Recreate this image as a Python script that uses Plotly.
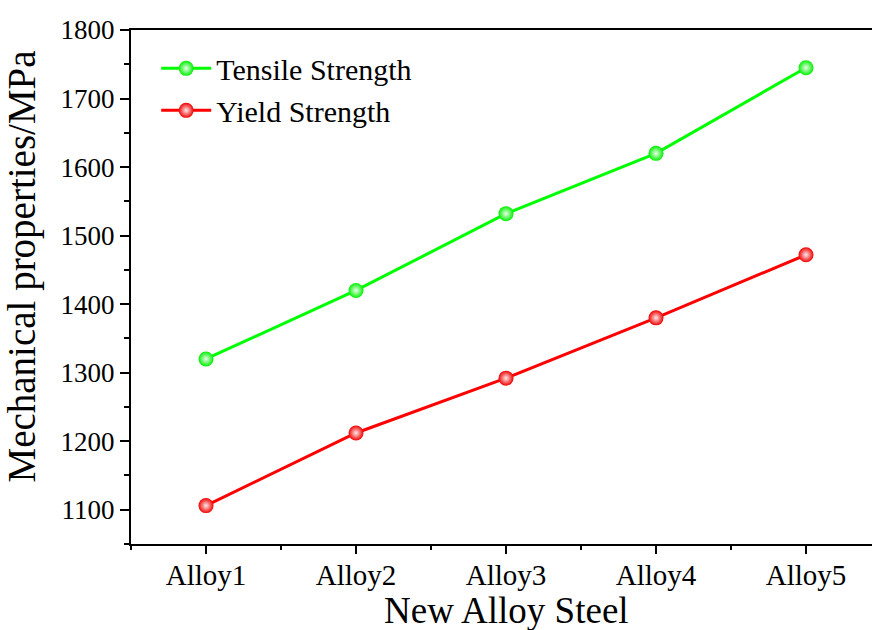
import plotly.graph_objects as go

categories = ["Alloy1", "Alloy2", "Alloy3", "Alloy4", "Alloy5"]
tensile = [1320, 1420, 1532, 1620, 1745]
yield_strength = [1106, 1212, 1292, 1380, 1472]

xpos = list(range(1, len(categories) + 1))
FONT = "Liberation Serif, Times New Roman, serif"

fig = go.Figure()
fig.add_trace(go.Scatter(
    x=xpos, y=tensile, name="Tensile Strength", mode="lines+markers",
    line=dict(color="#00ff00", width=3),
    marker=dict(size=15, color="#00f000", gradient=dict(type="radial", color="#eaffea"),
                line=dict(width=0)),
))
fig.add_trace(go.Scatter(
    x=xpos, y=yield_strength, name="Yield Strength", mode="lines+markers",
    line=dict(color="#ff0000", width=3),
    marker=dict(size=15, color="#f00000", gradient=dict(type="radial", color="#ffeaea"),
                line=dict(width=0)),
))

fig.update_layout(
    width=872, height=630,
    margin=dict(l=131, r=0, t=30, b=86, autoexpand=False),
    paper_bgcolor="white", plot_bgcolor="white",
    font=dict(family=FONT, color="black", size=27),
    showlegend=True,
    legend=dict(x=0.034, y=0.976, xanchor="left", yanchor="top",
                font=dict(family=FONT, size=30), bgcolor="rgba(0,0,0,0)",
                itemwidth=50, tracegroupgap=0),
    annotations=[
        dict(text="Mechanical properties/MPa", xref="paper", yref="paper",
             x=-0.147, y=0.54, xanchor="center", yanchor="middle", textangle=-90,
             showarrow=False, font=dict(family=FONT, size=39, color="black")),
        dict(text="New Alloy Steel", xref="paper", yref="paper",
             x=0.507, y=-0.13, xanchor="center", yanchor="middle",
             showarrow=False, font=dict(family=FONT, size=37, color="black")),
    ],
)
fig.update_xaxes(
    range=[0.5, 0.5 + 741 / 150], tickvals=xpos, ticktext=categories,
    showline=True, linecolor="black", linewidth=2, mirror=True,
    ticks="outside", ticklen=8, tickwidth=2, tickcolor="black",
    minor=dict(dtick=0.5, tick0=0.5, ticks="outside", ticklen=4, tickwidth=2, tickcolor="black"),
    showgrid=False, zeroline=False, automargin=False,
    tickfont=dict(family=FONT, size=29), ticklabelstandoff=-4,
)
fig.update_yaxes(
    range=[1050, 1800], dtick=100, tick0=1000,
    showline=True, linecolor="black", linewidth=2, mirror=False,
    ticks="outside", ticklen=9, tickwidth=2, tickcolor="black",
    minor=dict(dtick=50, tick0=1000, ticks="outside", ticklen=5, tickwidth=2, tickcolor="black"),
    showgrid=False, zeroline=False, automargin=False,
    tickfont=dict(family=FONT, size=27),
)

fig.write_html(
    "out.html",
    config={"displayModeBar": False},
    post_script="document.body.style.margin='0';document.body.style.overflow='hidden';",
)
